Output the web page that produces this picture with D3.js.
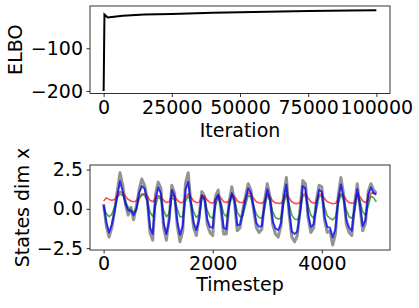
<!DOCTYPE html>
<html lang="en">
<head>
    <meta charset="UTF-8">
    <title>ELBO and latent states</title>
    <script src="https://d3js.org/d3.v7.min.js"></script>
    <style>
        body {
            margin: 0;
            background: #fff;
            font-family: "DejaVu Sans", sans-serif;
        }
        .tick text {
            font-size: 19px;
            fill: #000;
        }
        .axis-label {
            font-size: 19px;
            fill: #000;
        }
    </style>
</head>
<body>
    <div id="chart"></div>
    <script>
        // ELBO over training iterations
        const iterations = [0, 300, 800, 1500, 3000, 7000, 15000, 25000, 40000, 50000, 60000, 75000, 90000, 100000];
        const elbo = [-200, -21, -24, -28, -27, -24, -21, -19.5, -17, -15.5, -14.5, -13, -11.8, -11];

        const iterTicks = [0, 25000, 50000, 75000, 100000];
        const elboTicks = [-100, -200];

        // latent state samples, one value every 50 timesteps
        const timesteps = d3.range(0, 5001, 50);
        const observed = [0.3, -1.1, -1.8, -1.2, -0.1, 1.1, 2.3, 1.5, 0.3, -0.4, 0.1, -0.7, 0.2, 1.2, 1.9, 1.5, 0.7, -1.5, -2.0, 0.9,
            1.7, 1.3, -1.2, -2.0, -0.6, 1.5, 1.0, -1.1, -2.1, -1.4, 1.6, 2.3, 0.3, -1.2, -1.7, -0.5, 1.1, 0.8, -1.0, -1.5,
            -1.7, 0.8, 1.2, 0.0, -1.6, -1.6, 0.4, 1.4, 0.4, -1.4, -1.2, -0.1, 0.8, 1.6, 1.2, -0.1, -1.2, -1.5, -1.3, 0.5,
            1.6, 0.8, -1.0, -1.6, -1.8, -1.1, 0.9, 2.0, -0.3, -1.8, -2.1, -1.7, -0.1, 1.8, 1.6, -0.6, -1.5, -1.2, 0.5, 1.5,
            1.4, -0.7, -1.5, -1.4, -2.3, -1.6, 0.8, 2.0, 0.9, -1.0, -1.5, -1.7, 0.3, 1.6, 0.1, -1.4, -0.9, 1.1, 1.6, 1.2, 1.0];
        const stateBlue = [0.26, -0.85, -1.5, -1.0, -0.2, 0.85, 1.75, 1.1, 0.35, -0.1, -0.1, -0.4, -0.05, 1.0, 1.45, 1.3, 0.5, -1.2, -1.6, 0.6,
            1.35, 1.0, -0.9, -1.6, -0.8, 1.2, 0.8, -0.8, -1.65, -1.1, 1.2, 1.7, 0.4, -0.9, -1.35, -0.7, 0.85, 0.65, -0.7, -1.15,
            -1.2, 0.55, 0.9, 0.2, -1.2, -1.3, 0.26, 1.0, 0.5, -1.05, -1.0, -0.3, 0.6, 1.3, 1.0, 0.1, -0.9, -1.15, -1.1, 0.3,
            1.25, 0.6, -0.8, -1.25, -1.35, -0.95, 0.65, 1.55, -0.1, -1.45, -1.6, -1.45, -0.3, 1.45, 1.3, -0.4, -1.15, -1.0, 0.3, 1.2,
            1.1, -0.5, -1.15, -1.2, -1.8, -1.3, 0.6, 1.55, 0.7, -0.7, -1.2, -1.4, 0.1, 1.25, 0.2, -1.1, -0.7, 0.9, 1.35, 1.0, 0.9];
        const stateGreen = [0.1, -0.3, -0.5, -0.35, 0.1, 0.7, 0.95, 0.85, 0.5, 0.1, -0.1, -0.2, 0.0, 0.6, 0.9, 0.85, 0.5, -0.2, -0.5, 0.2,
            0.75, 0.6, -0.1, -0.5, -0.3, 0.7, 0.6, 0.0, -0.5, -0.5, 0.5, 0.8, 0.4, -0.2, -0.55, -0.4, 0.7, 0.6, -0.1, -0.5,
            -0.6, 0.2, 0.75, 0.4, -0.3, -0.5, 0.1, 0.8, 0.6, -0.2, -0.5, -0.45, 0.2, 0.85, 0.75, 0.2, -0.35, -0.55, -0.6, 0.0,
            0.85, 0.5, -0.2, -0.55, -0.65, -0.6, 0.3, 0.9, 0.3, -0.4, -0.65, -0.7, -0.3, 0.8, 0.85, 0.2, -0.4, -0.6, -0.1, 0.8,
            0.8, 0.1, -0.45, -0.6, -0.7, -0.5, 0.3, 0.9, 0.6, -0.1, -0.5, -0.6, -0.2, 0.85, 0.5, -0.2, -0.4, 0.2, 0.8, 0.7, 0.45];
        const stateRed = [0.5, 0.7, 0.6, 0.55, 0.6, 0.85, 1.1, 1.0, 0.8, 0.6, 0.5, 0.45, 0.5, 0.75, 0.95, 0.95, 0.8, 0.55, 0.45, 0.65,
            0.85, 0.75, 0.55, 0.4, 0.45, 0.85, 0.8, 0.55, 0.4, 0.4, 0.75, 0.95, 0.75, 0.5, 0.4, 0.4, 0.85, 0.8, 0.55, 0.4,
            0.35, 0.6, 0.85, 0.7, 0.45, 0.4, 0.5, 0.9, 0.8, 0.5, 0.4, 0.4, 0.6, 1.0, 0.95, 0.65, 0.45, 0.38, 0.35, 0.5,
            0.95, 0.75, 0.5, 0.38, 0.35, 0.35, 0.6, 0.95, 0.7, 0.45, 0.35, 0.33, 0.4, 0.9, 1.0, 0.7, 0.45, 0.35, 0.45, 0.9,
            0.95, 0.65, 0.45, 0.38, 0.32, 0.35, 0.6, 0.95, 0.85, 0.55, 0.4, 0.35, 0.4, 0.95, 0.75, 0.5, 0.4, 0.55, 1.0, 1.0, 0.95];

        const stepTicks = [0, 2000, 4000];
        const stateTicks = [2.5, 0.0, -2.5];

        const width = 419, height = 308;
        const svg = d3.select("#chart")
            .append("svg")
            .attr("width", width)
            .attr("height", height);

        const minus = s => s.replace("-", "\u2212");

        function drawFrame(g, x, y, box, xTicks, yTicks, yFmt) {
            g.append("g")
                .attr("transform", "translate(0," + box.bottom + ")")
                .call(d3.axisBottom(x).tickValues(xTicks).tickSize(3.5).tickPadding(3.5).tickFormat(d3.format("d")))
                .call(a => a.select(".domain").remove());
            g.append("g")
                .attr("transform", "translate(" + box.left + ",0)")
                .call(d3.axisLeft(y).tickValues(yTicks).tickSize(3.5).tickPadding(3.5).tickFormat(d => minus(yFmt(d))))
                .call(a => a.select(".domain").remove());
            g.append("rect")
                .attr("x", box.left)
                .attr("y", box.top)
                .attr("width", box.right - box.left)
                .attr("height", box.bottom - box.top)
                .attr("fill", "none")
                .attr("stroke", "#000")
                .attr("stroke-width", 0.8);
            g.selectAll(".tick line").attr("stroke", "#000").attr("stroke-width", 0.8);
            g.selectAll(".tick text").attr("font-family", "DejaVu Sans").attr("font-size", 19);
        }

        // top panel: ELBO
        const box1 = {left: 90, right: 390, top: 6, bottom: 93.5};
        const x1 = d3.scaleLinear().domain([-5000, 105000]).range([box1.left, box1.right]);
        const y1 = d3.scaleLinear().domain([-206, -1]).range([box1.bottom, box1.top]);
        const topPanel = svg.append("g");

        topPanel.append("path")
            .datum(iterations.map((d, i) => [d, elbo[i]]))
            .attr("fill", "none")
            .attr("stroke", "#000")
            .attr("stroke-width", 2)
            .attr("d", d3.line().x(d => x1(d[0])).y(d => y1(d[1])));

        drawFrame(topPanel, x1, y1, box1, iterTicks, elboTicks, d3.format("d"));

        topPanel.append("text")
            .attr("class", "axis-label")
            .attr("x", (box1.left + box1.right) / 2)
            .attr("y", 137)
            .attr("text-anchor", "middle")
            .text("Iteration");
        topPanel.append("text")
            .attr("class", "axis-label")
            .attr("transform", "translate(22," + (box1.top + box1.bottom) / 2 + ") rotate(-90)")
            .attr("text-anchor", "middle")
            .text("ELBO");

        // bottom panel: latent states
        const box2 = {left: 90, right: 390, top: 165, bottom: 250};
        const x2 = d3.scaleLinear().domain([-250, 5250]).range([box2.left, box2.right]);
        const y2 = d3.scaleLinear().domain([-2.62, 2.79]).range([box2.bottom, box2.top]);
        const bottomPanel = svg.append("g");

        const series = [
            {values: observed, color: "#808080", opacity: 0.85, width: 3},
            {values: stateRed, color: "#ff0000", opacity: 0.7, width: 1.6},
            {values: stateGreen, color: "#008000", opacity: 0.7, width: 1.6},
            {values: stateBlue, color: "#0000ff", opacity: 0.75, width: 2}
        ];
        const line2 = d3.line().x(d => x2(d[0])).y(d => y2(d[1]));

        bottomPanel.selectAll(".state")
            .data(series)
            .enter()
            .append("path")
            .attr("class", "state")
            .attr("fill", "none")
            .attr("stroke", d => d.color)
            .attr("stroke-opacity", d => d.opacity)
            .attr("stroke-width", d => d.width)
            .attr("stroke-linejoin", "round")
            .attr("d", d => line2(timesteps.map((t, i) => [t, d.values[i]])));

        drawFrame(bottomPanel, x2, y2, box2, stepTicks, stateTicks, d3.format(".1f"));

        bottomPanel.append("text")
            .attr("class", "axis-label")
            .attr("x", (box2.left + box2.right) / 2)
            .attr("y", 291)
            .attr("text-anchor", "middle")
            .text("Timestep");
        bottomPanel.append("text")
            .attr("class", "axis-label")
            .attr("transform", "translate(29," + (box2.top + box2.bottom) / 2 + ") rotate(-90)")
            .attr("text-anchor", "middle")
            .text("States dim x");
    </script>
</body>
</html>
